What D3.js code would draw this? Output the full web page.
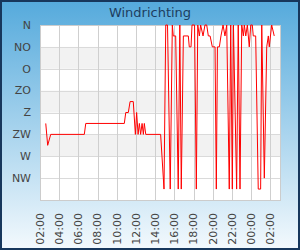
<!DOCTYPE html>
<html>
<head>
<meta charset="utf-8">
<script src="https://cdn.jsdelivr.net/npm/d3@7"></script>
<style>
  body { margin: 0; }
  svg { display: block; font-family: "DejaVu Sans", sans-serif; }
</style>
</head>
<body>
<div id="chart"></div>
<script>
const title = "Windrichting";

// compass labels, top to bottom (0, 45, ... 315 degrees)
const directions = ["N", "NO", "O", "ZO", "Z", "ZW", "W", "NW"];
const directionDegrees = [0, 45, 90, 135, 180, 225, 270, 315];

// measurement times (next day after midnight) and wind direction in degrees
const times = [
  "02:36", "02:48", "03:07", "06:37", "06:46", "10:47", "10:56", "11:12", "11:23", "11:43",
  "11:56", "12:04", "12:13", "12:21", "12:29", "12:38", "12:46", "12:52", "13:01", "14:34",
  "14:55", "15:06", "15:17", "15:34", "15:47", "15:53", "16:08", "16:24", "16:34", "16:43",
  "16:56", "17:27", "17:33", "17:44", "17:50", "18:06", "18:17", "18:26", "18:36", "18:44",
  "18:59", "19:11", "19:22", "19:32", "19:43", "19:57", "20:14", "20:22", "20:29", "20:41",
  "20:51", "21:04", "21:16", "21:27", "21:43", "21:52", "22:02", "22:09", "22:29", "22:39",
  "22:50", "23:01", "23:11", "23:17", "23:26", "23:36", "23:48", "23:57", "00:07", "00:13",
  "00:28", "00:44", "00:59", "01:06", "01:22", "01:37", "01:47", "01:53", "02:08", "02:24"
];
const windDir = [
  202.5, 247.5, 225, 225, 202.5, 202.5, 180, 180, 157.5, 157.5,
  225, 180, 225, 202.5, 225, 202.5, 225, 202.5, 225, 225,
  337.5, 0, 0, 337.5, 0, 22.5, 22.5, 337.5, 0, 337.5,
  22.5, 22.5, 45, 45, 0, 0, 337.5, 0, 22.5, 0,
  22.5, 0, 0, 22.5, 22.5, 45, 45, 337.5, 45, 45,
  22.5, 0, 22.5, 0, 337.5, 0, 337.5, 0, 337.5, 0,
  337.5, 0, 22.5, 0, 22.5, 0, 45, 0, 0, 22.5,
  22.5, 337.5, 337.5, 0, 315, 45, 22.5, 45, 0, 22.5
];

const width = 300;
const height = 250;
const plot = { left: 40, right: 280, top: 25, bottom: 200 };

// build dates, rolling over to the next day after midnight
let day = 1, prev = -1;
const data = times.map((t, i) => {
  const [h, m] = t.split(":").map(Number);
  const mins = h * 60 + m;
  if (mins < prev) day++;
  prev = mins;
  return { date: new Date(2014, 5, day, h, m), value: windDir[i] };
});

const svg = d3.select("#chart")
  .append("svg")
    .attr("width", width)
    .attr("height", height);

const defs = svg.append("defs");
const grad = defs.append("linearGradient")
  .attr("id", "bg")
  .attr("x1", 0).attr("y1", 0).attr("x2", 0).attr("y2", 1);
grad.append("stop").attr("offset", "0%").attr("stop-color", "#55aadc");
grad.append("stop").attr("offset", "100%").attr("stop-color", "#f3f9fd");

svg.append("rect")
  .attr("x", 1).attr("y", 1)
  .attr("width", width - 2).attr("height", height - 2)
  .attr("fill", "url(#bg)")
  .attr("stroke", "#17375c")
  .attr("stroke-width", 2);

svg.append("text")
  .attr("x", width / 2)
  .attr("y", 17)
  .attr("text-anchor", "middle")
  .attr("fill", "#1d3d5f")
  .attr("font-size", 13)
  .text(title);

const x = d3.scaleTime()
  .domain([new Date(2014, 5, 1, 2, 0), new Date(2014, 5, 2, 3, 0)])
  .range([plot.left, plot.right]);

const y = d3.scaleLinear()
  .domain([0, 360])
  .range([plot.top, plot.bottom]);

// plot background + alternate bands
svg.append("rect")
  .attr("x", plot.left).attr("y", plot.top)
  .attr("width", plot.right - plot.left).attr("height", plot.bottom - plot.top)
  .attr("fill", "#ffffff");

svg.selectAll(".band")
  .data([45, 135, 225])
  .enter().append("rect")
    .attr("class", "band")
    .attr("x", plot.left)
    .attr("y", d => y(d))
    .attr("width", plot.right - plot.left)
    .attr("height", d => y(d + 45) - y(d))
    .attr("fill", "#f2f2f2");

// horizontal grid
svg.selectAll(".hgrid")
  .data(directionDegrees.slice(1))
  .enter().append("line")
    .attr("class", "hgrid")
    .attr("x1", plot.left).attr("x2", plot.right)
    .attr("y1", d => Math.round(y(d)) + 0.5)
    .attr("y2", d => Math.round(y(d)) + 0.5)
    .attr("stroke", "#dadada");

// vertical grid
const xTicks = x.ticks(d3.timeHour.every(2));
svg.selectAll(".vgrid")
  .data(xTicks)
  .enter().append("line")
    .attr("class", "vgrid")
    .attr("x1", d => Math.round(x(d)) + 0.5)
    .attr("x2", d => Math.round(x(d)) + 0.5)
    .attr("y1", plot.top).attr("y2", plot.bottom)
    .attr("stroke", "#cfcfcf");

svg.append("rect")
  .attr("x", plot.left + 0.5).attr("y", plot.top + 0.5)
  .attr("width", plot.right - plot.left).attr("height", plot.bottom - plot.top)
  .attr("fill", "none")
  .attr("stroke", "#cccccc");

// y labels
svg.selectAll(".ylabel")
  .data(directions)
  .enter().append("text")
    .attr("class", "ylabel")
    .attr("x", 31)
    .attr("y", (d, i) => y(directionDegrees[i]))
    .attr("dy", "0.35em")
    .attr("text-anchor", "end")
    .attr("font-size", 11)
    .attr("fill", "#444")
    .text(d => d);

// x labels, rotated
const fmt = d3.timeFormat("%H:%M");
svg.selectAll(".xlabel")
  .data(xTicks)
  .enter().append("text")
    .attr("class", "xlabel")
    .attr("transform", d => `translate(${x(d)},213) rotate(-90)`)
    .attr("dy", "0.35em")
    .attr("text-anchor", "end")
    .attr("font-size", 11)
    .attr("fill", "#444")
    .text(d => fmt(d));

const line = d3.line()
  .x(d => x(d.date))
  .y(d => y(d.value));

svg.append("path")
  .datum(data)
  .attr("fill", "none")
  .attr("stroke", "#ff0000")
  .attr("stroke-width", 1)
  .attr("d", line);
</script>
</body>
</html>
